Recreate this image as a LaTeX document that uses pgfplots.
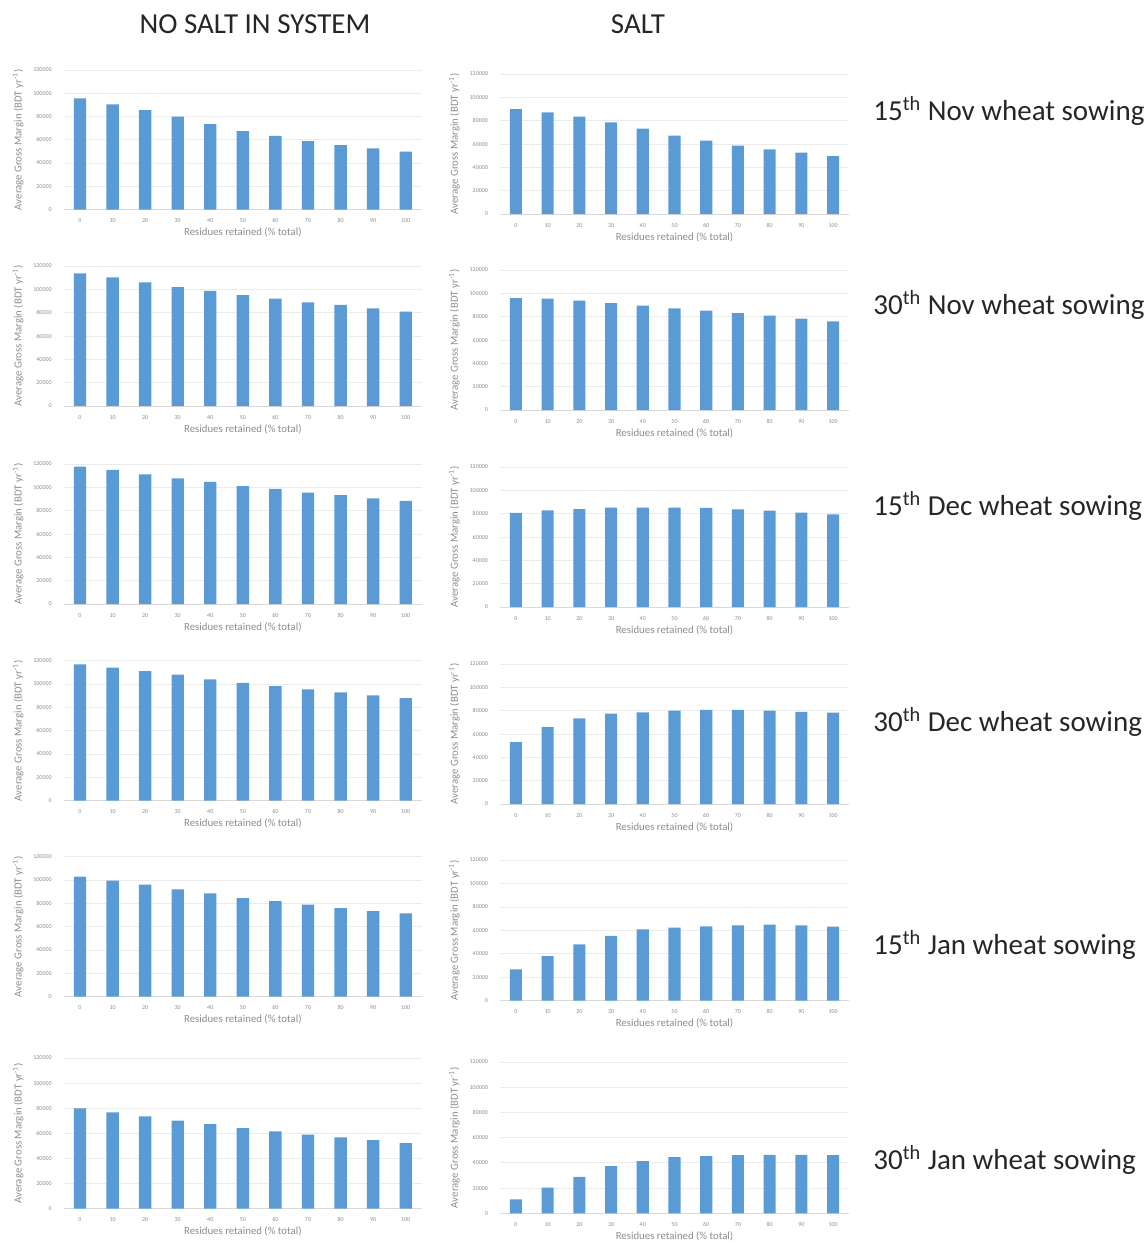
\documentclass[border=0pt]{standalone}
\usepackage{pgfplots}
\pgfplotsset{compat=1.18}
\usepackage{fontspec}
\setmainfont{Carlito}
\definecolor{barblue}{HTML}{5B9BD5}
\definecolor{gridgray}{HTML}{EBEBEB}
\definecolor{axisgray}{HTML}{D9D9D9}
\definecolor{labelgray}{HTML}{8C8C8C}
\newcommand{\tickfont}{\fontsize{3}{3.5}\selectfont}
\newcommand{\labfont}{\fontsize{5.4}{6.4}\selectfont}
\pgfplotsset{
  gmstyle/.style={
    scale only axis,
    anchor=south west,
    xmin=-5, xmax=105, ymin=0, ymax=120000,
    xtick={0,10,...,100}, ytick={0,20000,...,120000},
    ymajorgrids, grid style={gridgray, line width=0.4pt},
    axis x line*=bottom, axis y line*=left,
    x axis line style={draw=axisgray, line width=0.5pt, -},
    y axis line style={draw=none},
    major tick length=0pt,
    scaled y ticks=false,
    /pgf/number format/assume math mode=true,
    yticklabel style={/pgf/number format/fixed, /pgf/number format/1000 sep={}, font=\tickfont, text=labelgray, xshift=-2.5pt},
    xticklabel style={font=\tickfont, text=labelgray, text height=2.2pt, text depth=0pt, yshift=-0.8pt},
    xlabel={Residues retained (\% total)},
    ylabel={Average Gross Margin (BDT yr\textsuperscript{-1})},
    xlabel style={at={(axis description cs:0.5,0)}, anchor=center, yshift=-11.5pt, font=\labfont, text=labelgray},
    ylabel style={at={(axis description cs:0,0.5)}, anchor=center, rotate=0, yshift=22.8pt, font=\labfont, text=labelgray},
  }
}
\newcommand{\gm}[5]{%
\begin{axis}[gmstyle, at={(#1,#2)}, width=#3, height=#4]
\addplot[ybar, fill=barblue, draw=none, bar width=3.8] coordinates {#5};
\end{axis}}
\newcommand{\sowlab}[3]{\node[anchor=west, inner sep=0pt, font=\fontsize{14.5}{17}\selectfont, text=black!85] at (436.5pt,#1) {#2\textsuperscript{th} #3 wheat sowing};}
\begin{document}
\begin{tikzpicture}
\useasboundingbox (0,0) rectangle (573.5pt,-621.5pt);
\node[font=\fontsize{14.5}{17}\selectfont, text=black!85] at (127.5pt,-12pt) {NO SALT IN SYSTEM};
\node[font=\fontsize{14.5}{17}\selectfont, text=black!85] at (319pt,-12pt) {SALT};
% Left column: no salt
\gm{31.85pt}{-104.75pt}{179.15pt}{69.75pt}{(0,95600) (10,90400) (20,85500) (30,79800) (40,73500) (50,67500) (60,63400) (70,58900) (80,55400) (90,52500) (100,49700)}
\gm{31.85pt}{-203pt}{179.15pt}{70pt}{(0,113700) (10,110300) (20,106000) (30,102000) (40,98600) (50,95100) (60,92000) (70,88900) (80,86600) (90,83700) (100,80900)}
\gm{31.85pt}{-302pt}{179.15pt}{70pt}{(0,117700) (10,114900) (20,111100) (30,107700) (40,104600) (50,101100) (60,98600) (70,95400) (80,93400) (90,90600) (100,88300)}
\gm{31.85pt}{-400.35pt}{179.15pt}{70pt}{(0,116900) (10,114000) (20,111100) (30,108000) (40,104000) (50,101100) (60,98300) (70,95400) (80,92900) (90,90300) (100,88000)}
\gm{31.85pt}{-498.35pt}{179.15pt}{70pt}{(0,102900) (10,99400) (20,96000) (30,92000) (40,88600) (50,84600) (60,82000) (70,78900) (80,76000) (90,73400) (100,71400)}
\gm{31.85pt}{-604.35pt}{179.15pt}{75.35pt}{(0,79900) (10,76700) (20,73500) (30,70100) (40,67400) (50,64200) (60,61600) (70,58900) (80,56800) (90,54700) (100,52300)}
% Right column: salt
\gm{250pt}{-107pt}{174.5pt}{70pt}{(0,90000) (10,87100) (20,83400) (30,78600) (40,73100) (50,67100) (60,62900) (70,58600) (80,55400) (90,52600) (100,49700)}
\gm{250pt}{-205pt}{174.5pt}{70pt}{(0,96000) (10,95400) (20,93700) (30,91700) (40,89400) (50,87100) (60,85100) (70,83100) (80,80900) (90,78300) (100,76000)}
\gm{250pt}{-303.5pt}{174.5pt}{70pt}{(0,80600) (10,82900) (20,84000) (30,85100) (40,85100) (50,85100) (60,84900) (70,83700) (80,82600) (90,80900) (100,79400)}
\gm{250pt}{-402pt}{174.5pt}{70pt}{(0,53100) (10,66000) (20,73400) (30,77400) (40,78600) (50,80000) (60,80600) (70,80600) (80,80000) (90,78900) (100,78300)}
\gm{250pt}{-500.35pt}{174.5pt}{70.35pt}{(0,26700) (10,38100) (20,48100) (30,55200) (40,60900) (50,62300) (60,63400) (70,64300) (80,64800) (90,64300) (100,63100)}
\gm{250pt}{-606.65pt}{174.5pt}{75.65pt}{(0,11100) (10,20300) (20,29000) (30,37500) (40,41400) (50,44600) (60,45400) (70,46200) (80,46400) (90,46400) (100,46200)}
% Row labels
\sowlab{-55.5pt}{15}{Nov}
\sowlab{-152.5pt}{30}{Nov}
\sowlab{-253pt}{15}{Dec}
\sowlab{-361pt}{30}{Dec}
\sowlab{-472.5pt}{15}{Jan}
\sowlab{-580pt}{30}{Jan}
\end{tikzpicture}
\end{document}
